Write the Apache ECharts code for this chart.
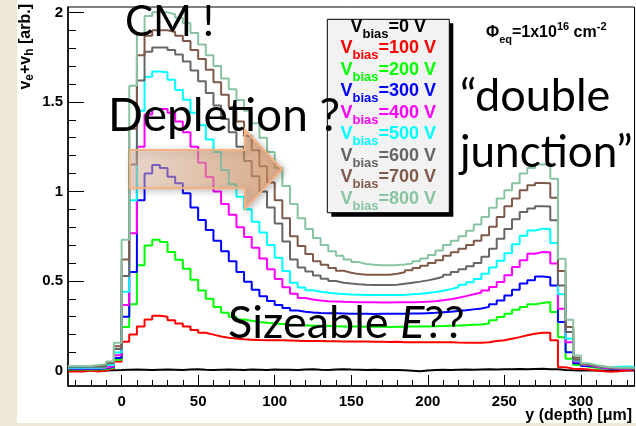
<!DOCTYPE html>
<html>
<head>
<meta charset="utf-8">
<script src="https://cdn.jsdelivr.net/npm/echarts@6/dist/echarts.min.js"></script>
<style>
html,body{margin:0;padding:0;background:#fff;}
#main{width:636px;height:426px;}
</style>
</head>
<body>
<div id="main"></div>
<script>
// histogram bins: lower edge in um, 5 um wide, last bin ends at 335
var binStart = [-35,-30,-25,-20,-15,-10,-5,0,5,10,15,20,25,30,35,40,45,50,55,60,
  65,70,75,80,85,90,95,100,105,110,115,120,125,130,135,140,145,150,155,160,
  165,170,175,180,185,190,195,200,205,210,215,220,225,230,235,240,245,250,255,260,
  265,270,275,280,285,290,295,300,305,310,315,320,325,330];
var binEnd = 335;

// v_e+v_h per bin, one array per bias voltage
var bias0 = [0,0,0,0,0,0.001,0.002,0.004,0.005,0.004,
  0.003,0.004,0.005,0.004,0.003,0.005,0.006,0.004,0.003,0.004,
  0.005,0.004,0.003,0.005,0.004,0.003,0.005,0.004,0.004,0.003,
  0.005,0.006,0.004,0.003,0.005,0.007,0.005,0.004,0.003,0.004,
  0.003,0.002,0.003,0.001,-0.002,-0.005,-0.001,0.002,0.004,0.003,
  0.004,0.005,0.004,0.005,0.006,0.005,0.006,0.007,0.008,0.007,
  0.008,0.009,0.007,0.006,0.003,0.001,0,0,0,0,
  0,0,0,0];
var bias100 = [-0.006,-0.006,0,-0.006,0,0.01,0.05,0.16,0.2,0.245,
  0.285,0.305,0.3,0.28,0.262,0.245,0.226,0.21,0.2,0.19,
  0.183,0.178,0.174,0.172,0.17,0.169,0.168,0.168,0.167,0.166,
  0.165,0.165,0.164,0.163,0.163,0.162,0.162,0.161,0.161,0.16,
  0.16,0.159,0.16,0.158,0.158,0.157,0.158,0.157,0.157,0.158,
  0.156,0.155,0.154,0.155,0.158,0.164,0.168,0.177,0.186,0.196,
  0.205,0.211,0.21,0.168,0.018,0.01,0.008,0.005,0,-0.005,
  -0.008,-0.005,0,0.005];
var bias200 = [0.005,0.005,0.005,0.005,0.008,0.015,0.06,0.242,0.37,0.587,
  0.698,0.73,0.717,0.661,0.618,0.568,0.507,0.447,0.4,0.354,
  0.322,0.3,0.285,0.278,0.27,0.266,0.262,0.259,0.256,0.254,
  0.252,0.25,0.249,0.248,0.247,0.246,0.245,0.245,0.244,0.244,
  0.244,0.243,0.244,0.244,0.245,0.245,0.246,0.247,0.248,0.25,
  0.251,0.253,0.255,0.257,0.262,0.28,0.298,0.317,0.339,0.354,
  0.369,0.376,0.382,0.326,0.186,0.065,0.03,0.02,0.015,0.012,
  0.01,0.01,0.008,0.008];
var bias300 = [0.01,0.01,0.01,0.01,0.012,0.02,0.07,0.3,0.55,0.95,
  1.1,1.148,1.13,1.082,1.045,0.99,0.91,0.84,0.785,0.725,
  0.665,0.61,0.55,0.495,0.45,0.415,0.388,0.365,0.348,0.335,
  0.328,0.324,0.321,0.32,0.319,0.318,0.317,0.316,0.316,0.315,
  0.316,0.316,0.316,0.317,0.318,0.318,0.32,0.322,0.325,0.328,
  0.332,0.336,0.341,0.346,0.355,0.369,0.391,0.419,0.451,0.485,
  0.503,0.525,0.52,0.475,0.27,0.102,0.04,0.025,0.02,0.015,
  0.01,0.01,0.008,0.008];
var bias400 = [0.012,0.012,0.012,0.012,0.015,0.025,0.085,0.366,0.766,1.25,
  1.43,1.46,1.46,1.44,1.39,1.33,1.25,1.16,1.08,1.0,
  0.93,0.87,0.8,0.745,0.685,0.625,0.565,0.51,0.465,0.428,
  0.405,0.396,0.39,0.387,0.385,0.383,0.382,0.381,0.381,0.381,
  0.38,0.38,0.381,0.381,0.381,0.382,0.384,0.387,0.392,0.398,
  0.406,0.415,0.425,0.435,0.447,0.466,0.494,0.531,0.578,0.615,
  0.652,0.662,0.66,0.597,0.345,0.158,0.05,0.03,0.02,0.015,
  0.012,0.01,0.01,0.01];
var bias500 = [0.015,0.015,0.015,0.015,0.018,0.03,0.1,0.44,0.95,1.45,
  1.64,1.67,1.665,1.623,1.567,1.512,1.44,1.37,1.29,1.22,
  1.12,1.04,0.97,0.9,0.83,0.77,0.7,0.63,0.555,0.49,
  0.463,0.448,0.44,0.434,0.43,0.427,0.424,0.423,0.422,0.422,
  0.422,0.422,0.422,0.422,0.425,0.428,0.433,0.438,0.445,0.454,
  0.465,0.478,0.492,0.51,0.54,0.575,0.612,0.655,0.705,0.752,
  0.782,0.792,0.79,0.712,0.425,0.177,0.055,0.035,0.025,0.02,
  0.018,0.02,0.022,0.02];
var bias600 = [0.02,0.02,0.02,0.02,0.022,0.04,0.12,0.528,1.15,1.62,
  1.78,1.804,1.804,1.79,1.765,1.725,1.675,1.615,1.55,1.48,
  1.405,1.33,1.25,1.17,1.085,1.0,0.91,0.82,0.72,0.62,
  0.575,0.553,0.53,0.512,0.5,0.49,0.485,0.481,0.478,0.477,
  0.477,0.477,0.478,0.484,0.49,0.496,0.503,0.512,0.523,0.535,
  0.55,0.565,0.582,0.6,0.635,0.68,0.735,0.79,0.845,0.885,
  0.905,0.917,0.915,0.839,0.475,0.214,0.06,0.035,0.025,0.02,
  0.015,0.012,0.012,0.01];
var bias700 = [0.025,0.025,0.025,0.025,0.028,0.045,0.135,0.62,1.35,1.76,
  1.87,1.9,1.9,1.89,1.87,1.84,1.79,1.74,1.68,1.61,
  1.54,1.47,1.39,1.31,1.23,1.14,1.05,0.95,0.85,0.75,
  0.695,0.65,0.61,0.59,0.572,0.557,0.546,0.538,0.535,0.534,
  0.534,0.534,0.54,0.548,0.56,0.572,0.585,0.6,0.615,0.64,
  0.66,0.68,0.7,0.725,0.755,0.802,0.857,0.917,0.96,1.006,
  1.034,1.047,1.045,0.965,0.555,0.242,0.071,0.035,0.025,0.02,
  0.015,0.012,0.012,0.012];
var bias800 = [0.025,0.025,0.025,0.03,0.035,0.05,0.155,0.73,1.59,1.88,
  1.98,2.0,2.0,1.99,1.97,1.94,1.885,1.82,1.76,1.7,
  1.63,1.57,1.51,1.45,1.38,1.3,1.22,1.13,1.03,0.93,
  0.85,0.79,0.74,0.7,0.665,0.64,0.62,0.605,0.595,0.59,
  0.588,0.588,0.589,0.592,0.598,0.61,0.625,0.645,0.67,0.7,
  0.725,0.75,0.78,0.815,0.857,0.909,0.96,1.006,1.045,1.1,
  1.13,1.15,1.152,1.07,0.624,0.283,0.084,0.04,0.03,0.022,
  0.018,0.015,0.015,0.015];

var biasNames = ['0','100','200','300','400','500','600','700','800'];
var biasColors = ['#000000','#ff0000','#00ff00','#0000ff','#ff00ff','#00ffff','#666666','#7f5a4a','#88c4a2'];
var biasValues = [bias0,bias100,bias200,bias300,bias400,bias500,bias600,bias700,bias800];

var xMajor = [0,50,100,150,200,250,300];
var xMinor = [-30,-20,-10,10,20,30,40,60,70,80,90,110,120,130,140,160,170,180,190,
  210,220,230,240,260,270,280,290,310,320,330];
var yMajor = [0,0.5,1,1.5,2];
var yMinor = [0.1,0.2,0.3,0.4,0.6,0.7,0.8,0.9,1.1,1.2,1.3,1.4,1.6,1.7,1.8,1.9];

var FONT = 'Liberation Sans';
var SLIDE = 'Lato';

function histData(vals){
  var d = binStart.map(function(x, i){ return [x, vals[i]]; });
  d.push([binEnd, vals[vals.length - 1]]);
  return d;
}

var myChart = echarts.init(document.getElementById('main'));

var series = biasValues.map(function(vals, i){
  return {
    name: biasNames[i] + ' V',
    type: 'line',
    step: 'end',
    data: histData(vals),
    symbol: 'none',
    lineStyle: {color: biasColors[i], width: 2},
    itemStyle: {color: biasColors[i]},
    z: 2 + i
  };
});

// legend box drawn by hand (ROOT style, text only)
var graphic = [
  {type: 'rect', silent: true, shape: {x: 0, y: 0, width: 17, height: 426}, style: {fill: '#eee8d6'}},
  {type: 'rect', silent: true, shape: {x: 0, y: 423, width: 636, height: 3}, style: {fill: '#eee8d6'}},
  {type: 'rect', z: 20, shape: {x: 331.3, y: 23.3, width: 122, height: 193.4}, style: {fill: '#000'}},
  {type: 'rect', z: 21, shape: {x: 327.3, y: 19.3, width: 122, height: 193.4}, style: {fill: '#f2f2f2', stroke: '#000', lineWidth: 1}}
];
biasNames.forEach(function(n, k){
  var c = biasColors[k];
  graphic.push({
    type: 'text', z: 22, x: 388.3, y: 12.7 + 21.5 * k,
    style: {
      text: '{v|V}{s|bias}{v|=' + n + ' V}',
      align: 'center', verticalAlign: 'top',
      rich: {
        v: {fontSize: 18, fontWeight: 'bold', fontFamily: FONT, fill: c, lineHeight: 28, verticalAlign: 'middle'},
        s: {fontSize: 13, fontWeight: 'bold', fontFamily: FONT, fill: c, lineHeight: 11, verticalAlign: 'bottom'}
      }
    }
  });
});

graphic.push(
  // fluence label
  {type: 'text', z: 22, x: 486, y: 33, style: {
    text: '{a|\u03a6}{b|eq}{a|=1x10}{c|16}{a| cm}{c|-2}',
    align: 'left', verticalAlign: 'middle',
    rich: {
      a: {fontSize: 16, fontWeight: 'bold', fontFamily: FONT, fill: '#000', lineHeight: 24, verticalAlign: 'middle'},
      b: {fontSize: 11, fontWeight: 'bold', fontFamily: FONT, fill: '#000', lineHeight: 16, verticalAlign: 'bottom'},
      c: {fontSize: 11, fontWeight: 'bold', fontFamily: FONT, fill: '#000', lineHeight: 10, verticalAlign: 'top'}
    }
  }},
  // axis titles
  {type: 'text', z: 22, x: 26, y: 4, rotation: Math.PI / 2, style: {
    text: '{a|v}{s|e}{a|+v}{s|h}{a| [arb.]}',
    align: 'right', verticalAlign: 'middle',
    rich: {
      a: {fontSize: 16, fontWeight: 'bold', fontFamily: FONT, fill: '#000', lineHeight: 20, verticalAlign: 'middle'},
      s: {fontSize: 12, fontWeight: 'bold', fontFamily: FONT, fill: '#000', lineHeight: 11, verticalAlign: 'bottom'}
    }
  }},
  {type: 'text', z: 22, x: 632, y: 416, style: {
    text: 'y (depth) [\u03bcm]', align: 'right', verticalAlign: 'middle',
    fontSize: 16, fontWeight: 'bold', fontFamily: FONT, fill: '#000'
  }},
  // slide annotations
  {type: 'polygon', z: 15, shape: {points: [[130,150],[245,150],[245,130],[282,169.3],[245,208.7],[245,188.3],[130,188.3]]},
    style: {
      fill: new echarts.graphic.LinearGradient(0, 0, 1, 0, [
        {offset: 0, color: 'rgba(246,206,178,0.45)'},
        {offset: 1, color: 'rgba(222,146,92,0.65)'}
      ]),
      stroke: '#f4b183', lineWidth: 2,
      shadowBlur: 6, shadowColor: 'rgba(0,0,0,0.3)', shadowOffsetX: 2, shadowOffsetY: 2
    }},
  {type: 'text', z: 30, x: 125, y: 22, style: {text: 'CM !', align: 'left', verticalAlign: 'middle', fontSize: 42, fontFamily: SLIDE, fill: '#000'}},
  {type: 'text', z: 30, x: 108, y: 116.5, style: {text: 'Depletion ?', align: 'left', verticalAlign: 'middle', fontSize: 46, fontFamily: SLIDE, fill: '#000'}},
  {type: 'text', z: 30, x: 460, y: 96, style: {text: '\u201cdouble', align: 'left', verticalAlign: 'middle', fontSize: 45, fontFamily: SLIDE, fill: '#000'}},
  {type: 'text', z: 30, x: 460, y: 152.5, style: {text: 'junction\u201d', align: 'left', verticalAlign: 'middle', fontSize: 44, fontFamily: SLIDE, fill: '#000'}},
  {type: 'text', z: 30, x: 228, y: 323.5, style: {
    text: '{n|Sizeable }{i|E}{n|??}', align: 'left', verticalAlign: 'middle',
    rich: {
      n: {fontSize: 45, fontFamily: SLIDE, fill: '#000'},
      i: {fontSize: 45, fontFamily: SLIDE, fontStyle: 'italic', fill: '#000'}
    }
  }}
);

var option = {
  backgroundColor: '#ffffff',
  animation: false,
  grid: {left: 68, right: 1.5, top: 7, bottom: 40, show: true, borderColor: '#000', borderWidth: 1, backgroundColor: 'rgba(0,0,0,0)'},
  xAxis: [{
    type: 'value', min: -35, max: 335, position: 'bottom',
    axisLine: {onZero: false, lineStyle: {color: '#000', width: 1.5}},
    axisTick: {inside: true, length: 11, customValues: xMajor, lineStyle: {color: '#000', width: 1}},
    axisLabel: {customValues: xMajor, margin: 8, color: '#000', fontSize: 15, fontWeight: 'bold', fontFamily: FONT},
    splitLine: {show: false}
  }, {
    // minor ticks, moved down onto the bottom axis
    type: 'value', min: -35, max: 335, position: 'top', offset: -379,
    axisLine: {show: false, onZero: false},
    axisTick: {inside: false, length: 6, customValues: xMinor, lineStyle: {color: '#000', width: 1}},
    axisLabel: {show: false},
    splitLine: {show: false}
  }],
  yAxis: [{
    type: 'value', min: -0.087, max: 2.03, position: 'left',
    axisLine: {onZero: false, lineStyle: {color: '#000', width: 1.5}},
    axisTick: {inside: true, length: 16, customValues: yMajor, lineStyle: {color: '#000', width: 1}},
    axisLabel: {customValues: yMajor, margin: 5, color: '#000', fontSize: 15, fontWeight: 'bold', fontFamily: FONT},
    splitLine: {show: false}
  }, {
    type: 'value', min: -0.087, max: 2.03, position: 'right', offset: -566.5,
    axisLine: {show: false, onZero: false},
    axisTick: {inside: false, length: 8, customValues: yMinor, lineStyle: {color: '#000', width: 1}},
    axisLabel: {show: false},
    splitLine: {show: false}
  }],
  series: series,
  graphic: graphic
};

myChart.setOption(option);
</script>
</body>
</html>
